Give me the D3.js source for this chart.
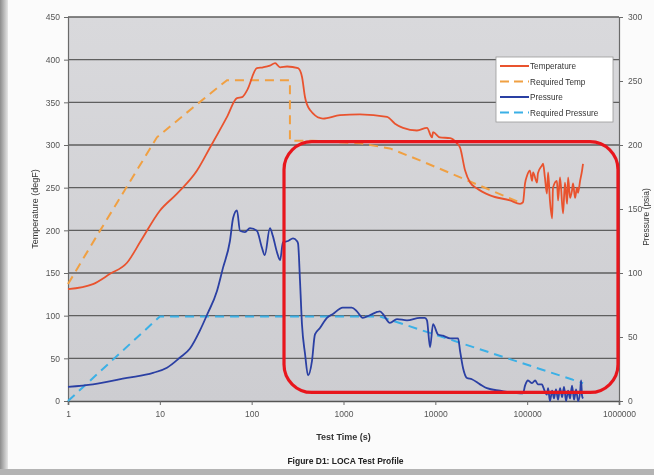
<!DOCTYPE html>
<html>
<head>
<meta charset="utf-8">
<script src="https://cdn.jsdelivr.net/npm/d3@7"></script>
<style>
  body { margin: 0; background: #fff; }
  text { font-family: "Liberation Sans", Arial, sans-serif; }
</style>
</head>
<body>
<svg id="chart" width="654" height="475"></svg>
<script>
// measured temperature (degF) vs test time (s)
const tempTime = [1, 1.87, 2.87, 4.39, 6.24, 10, 15.4, 25.4, 35.2, 53.9, 69.2, 78.5, 89, 114, 133, 158, 180, 204, 243, 320, 353, 381, 432, 598, 916, 1510, 2980, 3640, 4450, 6310, 8110, 9200, 9440, 11200, 14500, 17200, 18600, 21100, 23900, 28500, 39400, 65100, 83600, 90100,
  94800, 99600, 107000, 113000, 116000, 128000, 131000, 145000, 149000, 156000, 164000, 169000, 177000, 187000, 191000, 211000, 217000, 228000, 246000, 258000, 272000, 279000, 293000, 308000, 316000, 332000, 349000, 358000, 377000, 396000, 406000];
const tempVal = [131, 137, 149, 162, 188, 223, 243, 270, 297, 333, 355, 356, 364, 390, 391, 393, 396, 391, 392, 390, 380, 356, 341, 331, 335, 336, 333, 325, 320, 317, 320, 309, 315, 309, 308, 302, 297, 270, 256, 249, 241, 235, 231, 233,
  255, 264, 270, 258, 268, 256, 267, 276, 278, 262, 243, 268, 235, 214, 250, 258, 235, 262, 220, 256, 231, 262, 238, 247, 255, 238, 250, 244, 258, 270, 278];

// required temperature profile (degF)
const reqTempTime = [1, 1.97, 9.3, 23, 53.9, 261, 261, 466, 1510, 3200, 6790, 90100];
const reqTempVal = [137, 190, 309, 344, 376, 376, 305, 305, 302, 296, 282, 231];

// measured pressure (psia)
const presTime = [1, 1.87, 4.39, 8.43, 11.96, 16.6, 21.3, 27.3, 32.5, 41.9, 48.7, 58, 62.8, 69.2, 74.6, 84.5, 95.8, 114, 129, 139, 158, 170, 189, 204, 219, 249, 282, 311, 320, 336, 353, 381, 411, 453, 489, 554, 660, 767, 980, 1230, 1400, 1620, 1930, 2490, 2680, 3200, 3820, 4910, 6790, 7700, 8110, 8760, 9440, 10700, 12100, 14500, 17700, 18600, 20000, 22100, 25000, 30700, 36400, 50600, 83600, 90100,
  94800, 102000, 113000, 122000, 131000, 145000, 149000, 164000, 169000, 177000, 187000, 196000, 206000, 217000, 228000, 240000, 252000, 265000, 279000, 293000, 308000, 324000, 341000, 358000, 377000, 387000, 396000, 406000];
const presVal = [11, 13, 18, 22, 26, 34, 41, 55, 67, 86, 104, 125, 143, 149, 133, 132, 135, 133, 120, 114, 135, 129, 116, 110, 124, 125, 127, 125, 123, 94, 60, 37, 20, 31, 52, 57, 65, 68, 73, 73, 70, 65, 67, 70, 68, 61, 64, 63, 65, 65, 63, 42, 60, 52, 51, 49, 49, 39, 26, 18, 17, 13, 10, 8, 6, 6,
  12, 16, 14, 16, 13, 13, 11, 5, 10, 0, 8, 2, 9, 1, 10, 3, 11, 0, 8, 2, 12, 1, 9, 0, 7, 16, 4, 2];

// required pressure profile (psia)
const reqPresTime = [1, 10, 2490, 406000];
const reqPresVal = [0, 66, 66, 14];

const xTicks = [1, 10, 100, 1000, 10000, 100000, 1000000];
const yLeftTicks = [0, 50, 100, 150, 200, 250, 300, 350, 400, 450];
const yRightTicks = [0, 50, 100, 150, 200, 250, 300];
const legendNames = ["Temperature", "Required Temp", "Pressure", "Required Pressure"];

// highlighted region (time range, temperature range)
const boxTime = [225, 975000];
const boxTemp = [10, 304];

const svg = d3.select("#chart");
const W = 654, H = 475;
const m = { left: 68, right: 619, top: 17, bottom: 401 };

const x = d3.scaleLog().domain([1, 1e6]).range([m.left, m.right]);
const yL = d3.scaleLinear().domain([0, 450]).range([m.bottom, m.top]);
const yR = d3.scaleLinear().domain([0, 300]).range([m.bottom, m.top]);

const defs = svg.append("defs");
const bg = defs.append("linearGradient").attr("id", "plotbg").attr("x1", 0).attr("y1", 0).attr("x2", 0).attr("y2", 1);
bg.append("stop").attr("offset", "0%").attr("stop-color", "#d9d9dc");
bg.append("stop").attr("offset", "100%").attr("stop-color", "#cdcdd1");
const edge = defs.append("linearGradient").attr("id", "edge").attr("x1", 0).attr("y1", 0).attr("x2", 1).attr("y2", 0);
edge.append("stop").attr("offset", "0%").attr("stop-color", "#8c8c8c");
edge.append("stop").attr("offset", "100%").attr("stop-color", "#e6e6e6");
defs.append("filter").attr("id", "soft").append("feGaussianBlur").attr("stdDeviation", 0.45);

// page + scan edges
svg.append("rect").attr("width", W).attr("height", H).attr("fill", "#fbfbfb");
svg.append("rect").attr("x", 0).attr("y", 0).attr("width", 8).attr("height", H).attr("fill", "url(#edge)");
svg.append("rect").attr("x", 0).attr("y", 469).attr("width", W).attr("height", 6).attr("fill", "#b4b4b4");

// plot area
svg.append("rect")
  .attr("x", m.left).attr("y", m.top)
  .attr("width", m.right - m.left).attr("height", m.bottom - m.top)
  .attr("fill", "url(#plotbg)");

const g = svg.append("g").attr("filter", "url(#soft)");

// gridlines
g.append("g").selectAll("line").data(yLeftTicks.slice(1)).enter().append("line")
  .attr("x1", m.left).attr("x2", m.right)
  .attr("y1", d => yL(d)).attr("y2", d => yL(d))
  .attr("stroke", "#5e5e5e").attr("stroke-width", 1.3);

// axes
const axL = g.append("g").attr("transform", `translate(${m.left},0)`)
  .call(d3.axisLeft(yL).tickValues(yLeftTicks).tickSize(4).tickPadding(4));
const axR = g.append("g").attr("transform", `translate(${m.right},0)`)
  .call(d3.axisRight(yR).tickValues(yRightTicks).tickSize(4).tickPadding(5));
const axB = g.append("g").attr("transform", `translate(0,${m.bottom})`)
  .call(d3.axisBottom(x).tickValues(xTicks).tickFormat(d3.format("d")).tickSize(4).tickPadding(6));
[axL, axR, axB].forEach(a => {
  a.select(".domain").attr("stroke", "#6a6a6a").attr("stroke-width", 1.2);
  a.selectAll(".tick line").attr("stroke", "#6a6a6a");
  a.selectAll(".tick text").attr("fill", "#555").attr("font-size", 8.5)
    .attr("font-family", "'Liberation Sans', Arial, sans-serif");
});
axB.select(".domain").attr("stroke", "#555").attr("stroke-width", 1.6);

// series
const line = (ys, curve) => d3.line().x(d => x(d[0])).y(d => ys(d[1])).curve(curve || d3.curveLinear);
const zip = (a, b) => a.map((t, i) => [t, b[i]]);

g.append("path").datum(zip(reqPresTime, reqPresVal))
  .attr("d", line(yR)).attr("fill", "none")
  .attr("stroke", "#3ab0e6").attr("stroke-width", 2).attr("stroke-dasharray", "9,6");
g.append("path").datum(zip(reqTempTime, reqTempVal))
  .attr("d", line(yL)).attr("fill", "none")
  .attr("stroke", "#f0a043").attr("stroke-width", 2).attr("stroke-dasharray", "9,6");
g.append("path").datum(zip(presTime, presVal))
  .attr("d", line(yR, d3.curveMonotoneX)).attr("fill", "none")
  .attr("stroke", "#2b3fa3").attr("stroke-width", 1.8).attr("stroke-linejoin", "round");
g.append("path").datum(zip(tempTime, tempVal))
  .attr("d", line(yL, d3.curveMonotoneX)).attr("fill", "none")
  .attr("stroke", "#e9532f").attr("stroke-width", 1.8).attr("stroke-linejoin", "round");

// legend
const leg = g.append("g").attr("transform", "translate(496,57)");
leg.append("rect").attr("width", 117).attr("height", 65)
  .attr("fill", "#fff").attr("stroke", "#9a9a9a").attr("stroke-width", 0.8);
const legStyle = [
  { c: "#e9532f", dash: null }, { c: "#f0a043", dash: "9,5" },
  { c: "#2b3fa3", dash: null }, { c: "#3ab0e6", dash: "9,5" }
];
legendNames.forEach((name, i) => {
  const yy = 9 + i * 15.5;
  leg.append("line").attr("x1", 4).attr("x2", 33).attr("y1", yy).attr("y2", yy)
    .attr("stroke", legStyle[i].c).attr("stroke-width", 2)
    .attr("stroke-dasharray", legStyle[i].dash);
  leg.append("text").attr("x", 34).attr("y", yy + 3).attr("font-size", 8.2)
    .attr("fill", "#333").text(name);
});

// highlight box
svg.append("rect")
  .attr("x", x(boxTime[0])).attr("y", yL(boxTemp[1]))
  .attr("width", x(boxTime[1]) - x(boxTime[0]))
  .attr("height", yL(boxTemp[0]) - yL(boxTemp[1]))
  .attr("rx", 28).attr("ry", 28)
  .attr("fill", "none").attr("stroke", "#e8161f").attr("stroke-width", 3.2)
  .attr("filter", "url(#soft)");

// titles
const cx = (m.left + m.right) / 2;
g.append("text").attr("transform", `translate(38,${(m.top + m.bottom) / 2}) rotate(-90)`)
  .attr("text-anchor", "middle").attr("font-size", 9).attr("fill", "#333")
  .text("Temperature (degF)");
g.append("text").attr("transform", `translate(649,${(m.top + m.bottom) / 2 + 8}) rotate(-90)`)
  .attr("text-anchor", "middle").attr("font-size", 8.5).attr("fill", "#333")
  .text("Pressure (psia)");
g.append("text").attr("x", cx).attr("y", 440).attr("text-anchor", "middle")
  .attr("font-size", 9).attr("font-weight", "bold").attr("fill", "#333")
  .text("Test Time (s)");
g.append("text").attr("x", cx + 2).attr("y", 464).attr("text-anchor", "middle")
  .attr("font-size", 8.5).attr("font-weight", "bold").attr("fill", "#222")
  .text("Figure D1: LOCA Test Profile");
</script>
</body>
</html>
